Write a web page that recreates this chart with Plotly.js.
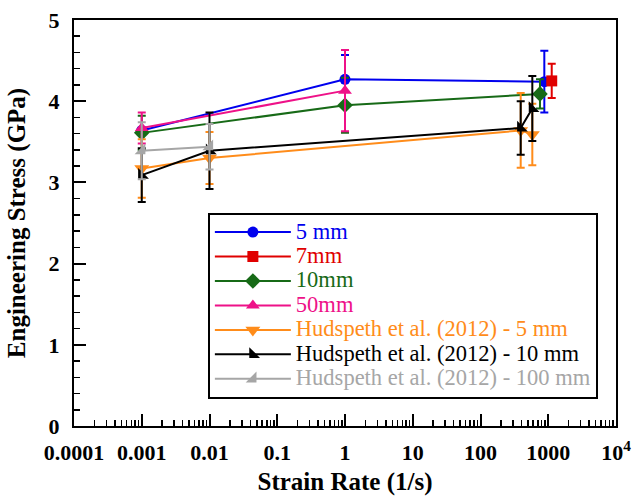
<!DOCTYPE html>
<html>
<head>
<meta charset="utf-8">
<script src="https://cdn.plot.ly/plotly-3.0.1.min.js"></script>
<style>html,body{margin:0;padding:0;background:#fff;}#chart{width:632px;height:497px;}</style>
</head>
<body>
<div id="chart"></div>
<script>
// Data
var x5mm = [0.001, 1, 875];
var y5mm = [3.64, 4.27, 4.24];
var e5mm = [0, 0.30, 0.38];

var x7mm = [1125];
var y7mm = [4.25];
var e7mm = [0.21];

var x10mm = [0.001, 1, 755];
var y10mm = [3.61, 3.95, 4.09];
var e10mm = [0.21, 0.34, 0.18];

var x50mm = [0.001, 1];
var y50mm = [3.67, 4.13];
var e50mm = [0.19, 0.50];

var xH5 = [0.001, 0.01, 392, 582];
var yH5 = [3.17, 3.30, 3.64, 3.59];
var eH5 = [0.36, 0.32, 0.46, 0.38];

var xH10 = [0.001, 0.01, 392, 582];
var yH10 = [3.09, 3.39, 3.67, 3.91];
var eH10 = [0.33, 0.47, 0.33, 0.40];

var xH100 = [0.001, 0.01];
var yH100 = [3.39, 3.44];
var eH100 = [0.35, 0.28];

var xTickVals = [0.0001, 0.001, 0.01, 0.1, 1, 10, 100, 1000, 10000];
var xTickText = ['0.0001', '0.001', '0.01', '0.1', '1', '10', '100', '1000', '10<sup>4</sup>'];

var names = ['5 mm', '7mm', '10mm', '50mm', 'Hudspeth et al. (2012) - 5 mm', 'Hudspeth et al. (2012) - 10 mm', 'Hudspeth et al. (2012) - 100 mm'];
var colors = ['#0000ee', '#e00000', '#176a17', '#ee1188', '#ff8c1a', '#000000', '#a6a6a6'];
var symbols = ['circle', 'square', 'diamond', 'triangle-up', 'triangle-down', 'triangle-sw', 'triangle-se'];
var sizes = [11, 11, 12, 12, 13, 12, 12];
var xs = [x5mm, x7mm, x10mm, x50mm, xH5, xH10, xH100];
var ys = [y5mm, y7mm, y10mm, y50mm, yH5, yH10, yH100];
var es = [e5mm, e7mm, e10mm, e50mm, eH5, eH10, eH100];

var traces = [];
for (var i = 0; i < names.length; i++) {
  traces.push({
    type: 'scatter',
    mode: 'lines+markers',
    x: xs[i], y: ys[i],
    name: '<span style="color:' + colors[i] + ';font-size:22.5px">' + names[i] + '</span>',
    line: {color: colors[i], width: 2},
    marker: {color: colors[i], symbol: symbols[i], size: sizes[i]},
    error_y: {type: 'data', array: es[i], visible: true, color: colors[i], thickness: 2, width: 4}
  });
}

var serif = 'Liberation Serif, Times New Roman, serif';
var tickFont = {family: serif, size: 22, color: '#000', weight: 'bold'};

var layout = {
  width: 632, height: 497,
  margin: {l: 74, r: 16, t: 20, b: 71},
  paper_bgcolor: '#fff', plot_bgcolor: '#fff',
  showlegend: true,
  legend: {
    x: 0.247, y: 0.525, xanchor: 'left', yanchor: 'top',
    bordercolor: '#000', borderwidth: 2, bgcolor: '#fff',
    font: {family: serif, size: 16.5, color: '#000'},
    tracegroupgap: 0, itemwidth: 76
  },
  xaxis: {
    type: 'log', range: [-4, 4],
    tickvals: xTickVals, ticktext: xTickText,
    ticks: 'inside', ticklen: 12, tickwidth: 2, tickcolor: '#000',
    minor: {ticks: 'inside', ticklen: 6, tickwidth: 1.5, tickcolor: '#000', dtick: 'D1', showgrid: false},
    showline: true, linewidth: 2, linecolor: '#000', mirror: true,
    showgrid: false, zeroline: false,
    tickfont: tickFont, ticklabelstandoff: 6,
    title: {text: 'Strain Rate (1/s)', font: {family: serif, size: 25, color: '#000', weight: 'bold'}, standoff: 8}
  },
  yaxis: {
    range: [0, 5], dtick: 1,
    ticks: 'inside', ticklen: 12, tickwidth: 2, tickcolor: '#000',
    minor: {ticks: 'inside', ticklen: 6, tickwidth: 1.5, tickcolor: '#000', dtick: 0.2, showgrid: false},
    showline: true, linewidth: 2, linecolor: '#000', mirror: true,
    showgrid: false, zeroline: false,
    tickfont: tickFont, ticklabelstandoff: 8,
    title: {text: 'Engineering Stress (GPa)', font: {family: serif, size: 25, color: '#000', weight: 'bold'}, standoff: 16}
  }
};

Plotly.newPlot('chart', traces, layout, {displayModeBar: false, staticPlot: true});
</script>
</body>
</html>
